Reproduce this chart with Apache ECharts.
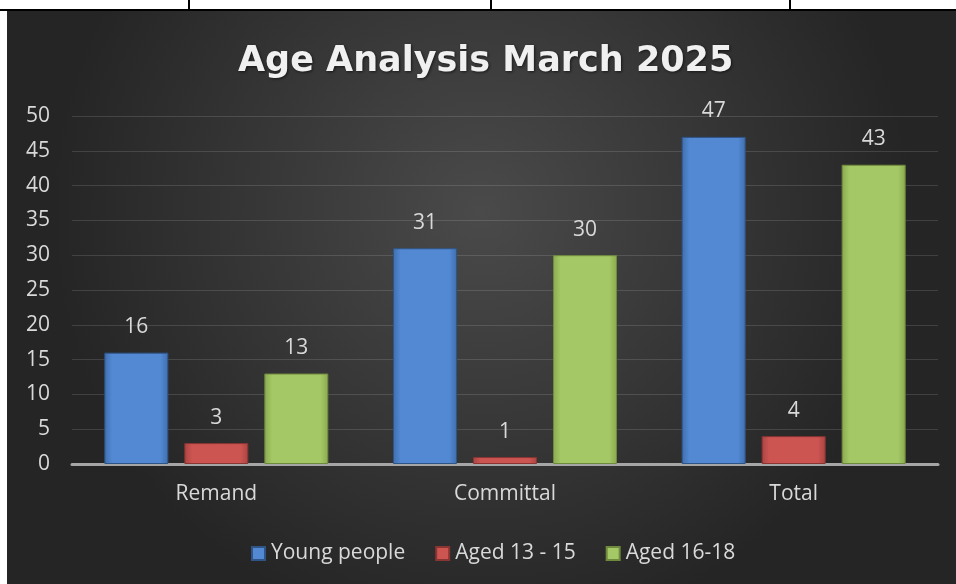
<!DOCTYPE html>
<html>
<head>
<meta charset="utf-8">
<script src="https://cdn.jsdelivr.net/npm/echarts@6/dist/echarts.min.js"></script>
<style>
  html, body { margin: 0; padding: 0; background: #fff; width: 956px; height: 584px; overflow: hidden; }
  #strip { position: absolute; left: 0; top: 0; width: 956px; height: 9px; border-bottom: 2px solid #000; }
  .vl { position: absolute; top: 0; width: 2px; height: 9px; background: #000; }
  #main { position: absolute; left: 7px; top: 11px; width: 949px; height: 573px; }
</style>
</head>
<body>
<div id="strip">
  <div class="vl" style="left:188px"></div>
  <div class="vl" style="left:490px"></div>
  <div class="vl" style="left:789px"></div>
</div>
<div id="main"></div>
<script>
  const categories = ['Remand', 'Committal', 'Total'];
  const youngPeople = [16, 31, 47];
  const aged13to15 = [3, 1, 4];
  const aged16to18 = [13, 30, 43];
  const yTicks = { min: 0, max: 50, interval: 5 };

  const txt = '#d9d9d9';
  const font = 'Open Sans';

  function barColor(edge, mid) {
    return {
      type: 'linear', x: 0, y: 0, x2: 1, y2: 0,
      colorStops: [
        { offset: 0, color: edge },
        { offset: 0.12, color: mid },
        { offset: 0.88, color: mid },
        { offset: 1, color: edge }
      ]
    };
  }

  function makeSeries(name, data, edge, mid, border) {
    return {
      name: name,
      type: 'bar',
      data: data,
      barWidth: 64,
      barGap: '25%',
      itemStyle: { color: barColor(edge, mid), borderColor: border, borderWidth: 1 },
      label: {
        show: true, position: 'top', distance: 15,
        color: txt, fontFamily: font, fontSize: 21
      }
    };
  }

  const chart = echarts.init(document.getElementById('main'));

  const option = {
    backgroundColor: {
      type: 'radial', x: 0.5, y: 0.35, r: 0.75,
      colorStops: [
        { offset: 0, color: '#4a4a4a' },
        { offset: 1, color: '#252525' }
      ]
    },
    animation: false,
    title: {
      text: 'Age Analysis March 2025',
      left: 226,
      top: 28,
      textStyle: {
        color: '#f0f0f0', fontFamily: 'DejaVu Sans', fontWeight: 'bold', fontSize: 35,
        textShadowColor: 'rgba(0,0,0,0.6)', textShadowBlur: 3, textShadowOffsetX: 1, textShadowOffsetY: 1
      }
    },
    legend: {
      top: 527,
      left: 239,
      itemWidth: 13,
      itemHeight: 13,
      itemGap: 30,
      icon: 'rect',
      textStyle: { color: txt, fontFamily: font, fontSize: 21, padding: [0, 0, 0, 1] },
      data: ['Young people', 'Aged 13 - 15', 'Aged 16-18']
    },
    grid: { left: 65, right: 18, top: 105, bottom: 120 },
    xAxis: {
      type: 'category',
      data: categories,
      axisLine: { lineStyle: { color: '#a6a6a6', width: 3 } },
      axisTick: { show: false },
      axisLabel: { color: txt, fontFamily: font, fontSize: 21, margin: 20 }
    },
    yAxis: {
      type: 'value',
      min: yTicks.min, max: yTicks.max, interval: yTicks.interval,
      axisLine: { show: false },
      axisTick: { show: false },
      axisLabel: { color: txt, fontFamily: font, fontSize: 21, margin: 22 },
      splitLine: { lineStyle: { color: 'rgba(255,255,255,0.13)', width: 1 } }
    },
    series: [
      makeSeries('Young people', youngPeople, '#3f6eaf', '#5289d2', '#2f5587'),
      makeSeries('Aged 13 - 15', aged13to15, '#a94441', '#cc5552', '#8a3532'),
      makeSeries('Aged 16-18', aged16to18, '#8aa94f', '#a4c865', '#6f8a3c')
    ]
  };

  chart.setOption(option);
</script>
</body>
</html>
